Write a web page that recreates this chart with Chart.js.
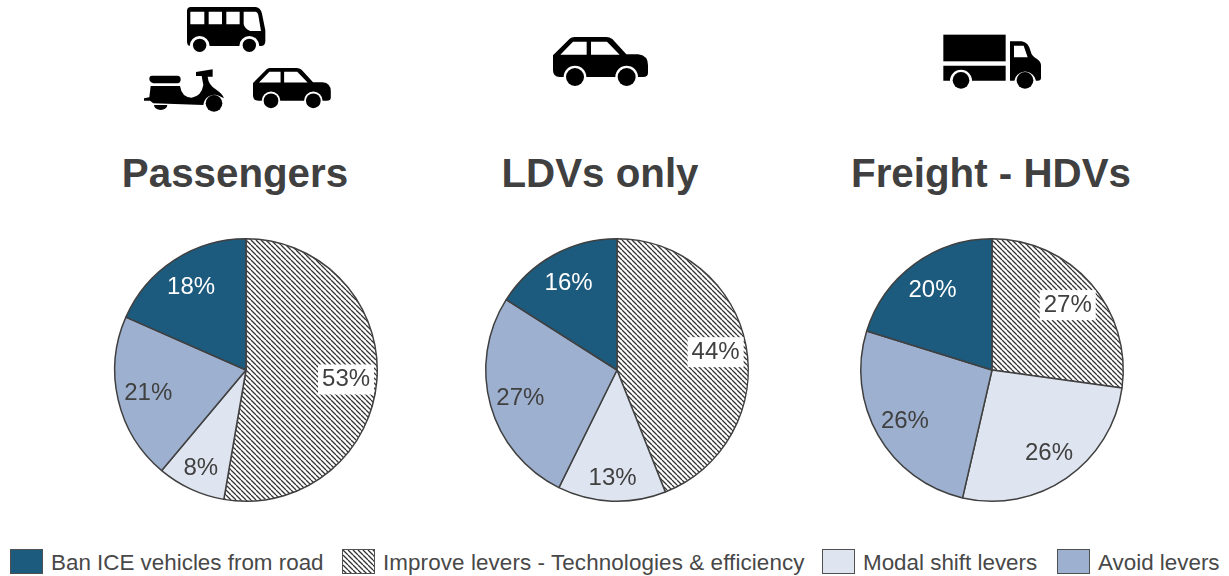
<!DOCTYPE html>
<html><head><meta charset="utf-8">
<script src="https://cdn.jsdelivr.net/npm/chart.js@4"></script>
<style>
html,body{margin:0;padding:0;background:#fff;width:1229px;height:576px;overflow:hidden;font-family:"Liberation Sans",Arial,sans-serif}
.pie{position:absolute;top:220px;width:300px;height:300px}
.pie canvas{display:block}
.title{position:absolute;top:151px;width:400px;text-align:center;font-weight:bold;font-size:40.3px;line-height:46px;color:#404040}
.sw{position:absolute;top:549px;width:33px;height:25px;box-sizing:border-box;border:1.5px solid #505050}
.lg{position:absolute;top:549px;font-size:22.4px;line-height:28px;color:#484848;white-space:nowrap}
svg.ic{position:absolute;left:0;top:0}
</style></head><body>
<svg class="ic" width="1229" height="140" viewBox="0 0 1229 140">
<defs>
<g id="car">
<path fill="#000" fill-rule="evenodd" d="M0 55L50 5Q55 0 65 0L160 0Q170 0 178 6L220 52L255 52Q285 55 285 85L285 108Q285 120 270 120L255 120A34 34 0 0 0 187 120L100 120A34 34 0 0 0 32 120L20 120Q0 120 0 100ZM22 53L101 53L101 14L60 14ZM114 14L114 53L200 53L162 14Z"/>
<circle cx="66" cy="120" r="27" fill="#000"/><circle cx="221" cy="120" r="27" fill="#000"/>
</g>
</defs>
<use href="#car" transform="translate(553 37) scale(.3333)"/>
<use href="#car" transform="translate(253 68) scale(.273)"/>
<g transform="translate(187 7) scale(.3333)">
<path fill="#000" fill-rule="evenodd" d="M12 0L205 0Q220 0 225 20L235 70L235 103Q235 117 222 117L217 117A30 30 0 0 0 157 117L68 117A30 30 0 0 0 8 117Q0 115 0 103L0 12Q0 0 12 0ZM10 14L10 52L52 52L52 14ZM65 14L65 52L105 52L105 14ZM118 14L118 52L158 52L158 14ZM170 14L170 50Q172 65 190 72L222 72L214 25Q212 14 205 14Z"/>
<circle cx="38" cy="115" r="20" fill="#000"/><circle cx="187" cy="115" r="20" fill="#000"/>
</g>
<g transform="translate(140 60) scale(.3333)" fill="#000">
<path d="M36 47L112 47Q122 47 122 58Q122 70 112 70L40 70Q28 66 28 56Q28 47 36 47Z"/>
<path d="M32 78L120 78Q125 112 155 113Q185 108 190 75L185 48L168 48L168 36L218 28L218 50L203 50Q205 75 230 90Q248 102 252 115L238 108A33 33 0 0 0 190 135L40 130L30 122L12 122L12 115L28 112Z"/>
<circle cx="222" cy="130" r="25"/>
<path d="M42 135L82 135A20 15 0 0 1 42 135Z"/>
</g>
<g transform="translate(935 28) scale(.3333)" fill="#000">
<rect x="25" y="20" width="187" height="80"/>
<path d="M25 113L212 113L212 158L111 158A33 33 0 0 0 45 158L25 158Z"/>
<path fill-rule="evenodd" d="M225 40L260 40Q280 42 287 70Q290 85 305 92Q318 100 318 112L318 150Q318 158 308 158L303 158A33 33 0 0 0 238 158L225 158ZM237 53L237 88L278 88L266 53Z"/>
<circle cx="78" cy="157" r="25"/><circle cx="270" cy="157" r="25"/>
</g>
</svg>
<div id="root"></div>
<script>
// ---- data ----
const categories = ["Improve levers - Technologies & efficiency","Modal shift levers","Avoid levers","Ban ICE vehicles from road"];
const passengers = [52.7,8.4,20.5,18.4];
const ldvs = [44,13.3,26.7,16];
const freight = [27.2,26.4,26.2,20.2];
const titles = ["Passengers","LDVs only","Freight - HDVs"];
const legendOrder = [3,0,1,2];

const DARK="#1c5a7e", LIGHT="#dfe5f0", MID="#9db0cf", INK="#404040";
function hatchTile(){
  const c=document.createElement('canvas');c.width=5;c.height=5;
  const x=c.getContext('2d');x.fillStyle='#fff';x.fillRect(0,0,5,5);
  x.strokeStyle='#333';x.lineWidth=1.3;
  x.beginPath();
  for(let i=-5;i<=5;i+=5){x.moveTo(i,0);x.lineTo(i+5,5);}
  x.stroke();return c;
}
const tile=hatchTile();
const hatch=document.createElement('canvas').getContext('2d').createPattern(tile,'repeat');
const fills=[hatch,LIGHT,MID,DARK];

const pctLabels={id:'pctLabels',afterDatasetsDraw(chart){
  const ctx=chart.ctx,meta=chart.getDatasetMeta(0),d=chart.data.datasets[0].data;
  ctx.save();ctx.font='24px "Liberation Sans",Arial,sans-serif';ctx.textAlign='center';ctx.textBaseline='middle';
  meta.data.forEach((a,i)=>{
    const mid=(a.startAngle+a.endAngle)/2,k=d[i]<15?.82:.765;
    const x=a.x+Math.cos(mid)*a.outerRadius*k,y=a.y+Math.sin(mid)*a.outerRadius*k+1;
    const t=Math.round(d[i])+'%';
    if(i===0){const w=ctx.measureText(t).width+8;ctx.fillStyle='#fff';ctx.fillRect(x-w/2,y-15,w,30);}
    ctx.fillStyle=i===3?'#fff':INK;ctx.fillText(t,x,y);
  });
  ctx.restore();
}};

const root=document.getElementById('root');
[[passengers,246,235],[ldvs,617,600],[freight,992,991]].forEach(([vals,cx,tx],n)=>{
  const t=document.createElement('div');t.className='title';t.textContent=titles[n];t.style.left=(tx-200)+'px';root.appendChild(t);
  const w=document.createElement('div');w.className='pie';w.style.left=(cx-150)+'px';
  const cv=document.createElement('canvas');cv.width=300;cv.height=300;w.appendChild(cv);root.appendChild(w);
  new Chart(cv,{type:'pie',plugins:[pctLabels],
    data:{labels:categories,datasets:[{data:vals,backgroundColor:fills,borderColor:INK,borderWidth:1.5,borderAlign:'center'}]},
    options:{responsive:false,animation:false,layout:{padding:18},
      plugins:{legend:{display:false},tooltip:{enabled:false},title:{display:false}}}});
});

const swX=[10,342,822,1057], txX=[51,383,863,1098];
const url=tile.toDataURL();
legendOrder.forEach((c,i)=>{
  const s=document.createElement('div');s.className='sw';s.style.left=swX[i]+'px';
  if(c===0)s.style.background='url('+url+')';else s.style.background=[null,LIGHT,MID,DARK][c];
  root.appendChild(s);
  const l=document.createElement('div');l.className='lg';l.style.left=txX[i]+'px';l.textContent=categories[c];
  if(c===0)l.style.letterSpacing='0.1px';
  root.appendChild(l);
});
</script>
</body></html>
